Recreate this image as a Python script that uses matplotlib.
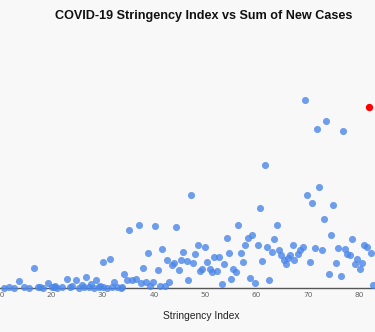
import matplotlib
matplotlib.use("Agg")
import matplotlib.pyplot as plt

# stringency index (x) and sum of new cases (y)
stringency = [
    69.4, 73.6, 71.7, 76.8, 61.6, 47.2, 72.2, 69.9, 70.8, 75.0,
    60.6, 73.2, 35.1, 37.0, 40.2, 44.4, 56.4, 63.9, 54.2, 58.3,
    59.2, 74.5, 78.7, 63.4, 48.6, 57.8, 60.2, 67.1, 81.0, 81.5,
    50.0, 62.0, 69.0, 71.3, 75.9, 77.2, 64.4, 72.7, 68.4, 63.0,
    41.6, 38.8, 45.7, 48.1, 54.6, 56.9, 82.4, 68.0, 64.8, 51.8,
    52.7, 66.6, 77.6, 78.3, 66.2, 67.4, 65.3, 46.4, 47.6, 50.4,
    57.4, 61.1, 70.4, 75.4, 79.6, 80.6, 65.7, 79.2, 53.6, 50.9,
    49.4, 49.0, 51.4, 52.3, 55.5, 56.0, 80.1, 74.1, 76.4, 46.7,
    55.1, 58.8, 62.5, 53.2, 59.7, 82.7, 30.0, 31.4, 37.9, 40.7,
    42.5, 43.5, 44.0, 45.3, 44.9, 34.2, 16.6, 13.8, 19.4, 23.1,
    24.9, 26.8, 28.7, 34.7, 35.8, 36.5, 37.4, 38.4, 39.8, 43.0,
    32.3, 27.7, 25.9, 24.0, 20.8, 39.3, 41.1, 42.1, 29.5, 33.7,
    10.8, 11.8, 12.8, 14.7, 15.7, 17.5, 17.8, 18.3, 20.1, 20.5,
    21.2, 22.1, 23.7, 25.4, 26.3, 27.4, 28.3, 29.3, 30.1, 30.9,
    31.8, 32.8, 33.5,
]
new_cases = [
    94400, 83850, 79850, 78500, 61850, 46650, 50500, 46650, 42650, 41750,
    40350, 34500, 29150, 31500, 31150, 30750, 31900, 31600, 25350, 25350,
    26750, 26850, 24500, 24650, 21850, 21850, 21850, 21850, 21500, 20900,
    20500, 20850, 20900, 20150, 20400, 19750, 19350, 19000, 19000, 18150,
    19850, 17600, 18100, 17150, 17500, 17500, 17650, 17100, 16850, 15850,
    15850, 16700, 17000, 16900, 15400, 14250, 14000, 13600, 12850, 13150,
    13150, 13650, 13350, 12850, 14500, 12600, 12150, 12100, 12100, 9850,
    9750, 8900, 8400, 8850, 9750, 8400, 9750, 7350, 6350, 4250,
    4600, 5000, 4400, 2350, 2500, 1900, 13150, 14500, 10400, 9400,
    14250, 11900, 12900, 14000, 9150, 7150, 10000, 3600, 2650, 4500,
    4150, 5850, 4350, 4000, 4150, 4900, 2600, 3400, 3400, 3400,
    3150, 2350, 1600, 1250, 1350, 1000, 1350, 1000, 1350, 650,
    400, 500, 400, 450, 400, 500, 450, 400, 500, 450,
    400, 500, 450, 400, 500, 450, 400, 500, 450, 400,
    500, 450, 400,
]
# highlighted point
red_x = [81.9]
red_y = [90650]

x_ticks = [10, 20, 30, 40, 50, 60, 70, 80]

bg = "#f8f8f8"
fig = plt.figure(figsize=(3.75, 3.32), dpi=100, facecolor=bg)
ax = fig.add_axes([0, 43.7 / 332, 1, 248.3 / 332], facecolor=bg)

ax.scatter(stringency, new_cases, s=26, color="#4a86e8", alpha=0.8,
           linewidths=0, zorder=3, clip_on=False)
ax.scatter(red_x, red_y, s=28, color="#ff0000", linewidths=0, zorder=4)

ax.set_xlim(10.52, 83.09)
ax.set_ylim(0, 124150)

for side in ["top", "right", "left"]:
    ax.spines[side].set_visible(False)
ax.spines["bottom"].set_color("#555555")
ax.spines["bottom"].set_linewidth(1)
ax.set_yticks([])
ax.set_xticks(x_ticks)
ax.tick_params(axis="x", length=0, pad=3, labelsize=5.3, labelcolor="#666666")

fig.text(204 / 375, 1 - 15.7 / 332, "COVID-19 Stringency Index vs Sum of New Cases",
         ha="center", va="center", fontsize=9.1, fontweight="bold",
         family=["Liberation Sans", "DejaVu Sans"], color="#111111")
fig.text(201 / 375, 1 - 316 / 332, "Stringency Index", ha="center", va="center",
         fontsize=7.4, family=["Liberation Sans", "DejaVu Sans"], color="#222222")

fig.savefig("out.png", dpi=100, facecolor=bg)
